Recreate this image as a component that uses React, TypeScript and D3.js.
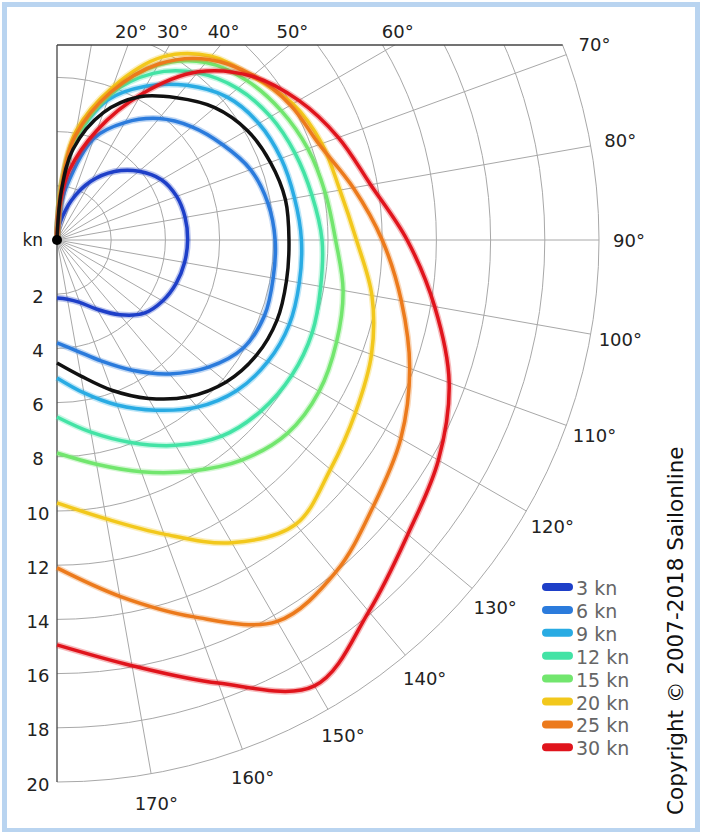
import React, { useEffect, useRef } from "react";
import * as d3 from "d3";

// true wind angle (deg) for every polar point
const angles = [0, 5, 10, 20, 30, 40, 50, 60, 70, 80, 90, 100, 110, 120, 130, 140, 150, 160, 170, 180];

// boat speed (kn) per wind speed
const speed3 = [0, 0.3, 0.65, 1.55, 2.5, 3.3, 3.95, 4.45, 4.7, 4.8, 4.82, 4.78, 4.68, 4.5, 4.2, 3.6, 2.95, 2.45, 2.22, 2.14];
const speed6 = [0, 1.0, 2.0, 4.0, 5.0, 5.85, 6.5, 7.05, 7.6, 7.9, 8.05, 8.1, 8.15, 7.95, 7.3, 6.45, 5.55, 4.75, 4.15, 3.8];
const speed9 = [0, 2.0, 3.7, 5.5, 6.55, 7.45, 8.2, 8.6, 8.8, 8.9, 9.02, 9.08, 9.12, 8.98, 8.65, 8.05, 7.25, 6.48, 5.73, 5.09];
const speed12 = [0, 1.9, 3.6, 5.7, 7.1, 8.05, 8.7, 9.1, 9.35, 9.55, 9.78, 9.88, 10.02, 10.0, 9.82, 9.45, 8.75, 7.95, 7.2, 6.53];
const speed15 = [0, 2.0, 3.8, 5.8, 7.45, 8.55, 9.15, 9.55, 9.85, 10.05, 10.28, 10.72, 10.98, 11.17, 11.1, 10.6, 9.85, 9.1, 8.4, 7.86];
const speed20 = [0, 2.2, 4.1, 6.0, 7.8, 8.85, 9.4, 10.05, 10.4, 10.6, 11.05, 11.8, 12.35, 12.72, 13.17, 13.7, 12.9, 11.55, 10.45, 9.7];
const speed25 = [0, 2.1, 3.9, 5.8, 7.5, 8.7, 9.45, 9.95, 10.3, 11.1, 12.0, 12.9, 13.85, 14.65, 15.25, 16.0, 16.25, 14.8, 13.35, 12.1];
const speed30 = [0, 1.4, 2.6, 4.3, 6.2, 8.1, 9.4, 10.3, 11.05, 11.75, 12.92, 14.15, 15.4, 16.25, 16.9, 17.9, 19.0, 17.4, 15.95, 14.94];
// black curve (current wind)
const speedNow = [0, 1.8, 3.4, 5.0, 6.1, 6.85, 7.6, 8.1, 8.38, 8.56, 8.56, 8.6, 8.64, 8.5, 8.15, 7.55, 6.75, 5.9, 5.1, 4.54];

const windLabels = ["3 kn", "6 kn", "9 kn", "12 kn", "15 kn", "20 kn", "25 kn", "30 kn"];
const windColors = ["#1e3fc8", "#2b7bdc", "#29abe3", "#43e3a5", "#72e66e", "#f2c81c", "#ec7a1c", "#e0141c"];
const windSpeeds = [speed3, speed6, speed9, speed12, speed15, speed20, speed25, speed30];

const radialTicks = [2, 4, 6, 8, 10, 12, 14, 16, 18, 20];
const angleTicks = [20, 30, 40, 50, 60, 70, 80, 90, 100, 110, 120, 130, 140, 150, 160, 170];
const gridAngles = [10, 20, 30, 40, 50, 60, 70, 80, 90, 100, 110, 120, 130, 140, 150, 160, 170];

const W = 702;
const H = 832;
const cx = 57;
const cy = 240;
const topY = 45;
const FONT = "DejaVu Sans, Verdana, sans-serif";

const PolarChart = () => {
  const ref = useRef<SVGSVGElement>(null);

  useEffect(() => {
    const svg = d3.select(ref.current);
    svg.selectAll("*").remove();

    const r = d3.scaleLinear().domain([0, 20]).range([0, 542]);
    const R = r(20);
    const rad = (a: number) => (a * Math.PI) / 180;

    // page frame
    svg.append("rect").attr("width", W).attr("height", H).attr("fill", "#fff");
    svg.append("rect")
      .attr("x", 4.5).attr("y", 4.5).attr("width", 693).attr("height", 826)
      .attr("fill", "none").attr("stroke", "#b9d4f0").attr("stroke-width", 5);

    svg.append("clipPath").attr("id", "plotclip")
      .append("rect").attr("x", cx).attr("y", topY).attr("width", W).attr("height", H);

    const grid = svg.append("g").attr("clip-path", "url(#plotclip)");

    // speed circles
    grid.selectAll("circle.ring")
      .data(radialTicks)
      .enter()
      .append("circle")
      .attr("class", "ring")
      .attr("cx", cx).attr("cy", cy)
      .attr("r", (d) => r(d))
      .attr("fill", "none")
      .attr("stroke", "#a8a8a8")
      .attr("stroke-width", 1);

    // angle spokes
    grid.selectAll("line.spoke")
      .data(gridAngles)
      .enter()
      .append("line")
      .attr("class", "spoke")
      .attr("x1", cx).attr("y1", cy)
      .attr("x2", (d) => cx + R * Math.sin(rad(d)))
      .attr("y2", (d) => cy - R * Math.cos(rad(d)))
      .attr("stroke", "#a8a8a8")
      .attr("stroke-width", 1);

    // frame lines (top and left axis)
    const topEnd = cx + Math.sqrt(R * R - (cy - topY) * (cy - topY));
    svg.append("line")
      .attr("x1", cx).attr("y1", topY).attr("x2", topEnd).attr("y2", topY)
      .attr("stroke", "#444").attr("stroke-width", 1.3);
    svg.append("line")
      .attr("x1", cx).attr("y1", topY).attr("x2", cx).attr("y2", cy + R)
      .attr("stroke", "#444").attr("stroke-width", 1.3);

    // angle labels
    const limitAngle = (Math.acos((cy - topY) / R) * 180) / Math.PI;
    angleTicks.forEach((a) => {
      if (a < limitAngle) {
        svg.append("text")
          .attr("x", cx + (cy - topY) * Math.tan(rad(a)) + 3)
          .attr("y", 38)
          .attr("text-anchor", "middle")
          .attr("font-family", FONT).attr("font-size", 18).attr("fill", "#222")
          .text(`${a}°`);
      } else {
        const rl = R + 30;
        svg.append("text")
          .attr("x", cx + rl * Math.sin(rad(a)))
          .attr("y", cy - rl * Math.cos(rad(a)))
          .attr("text-anchor", "middle")
          .attr("dominant-baseline", "central")
          .attr("font-family", FONT).attr("font-size", 18).attr("fill", "#222")
          .text(`${a}°`);
      }
    });

    // speed labels
    svg.selectAll("text.rlab")
      .data(radialTicks)
      .enter()
      .append("text")
      .attr("class", "rlab")
      .attr("x", 38)
      .attr("y", (d) => cy + r(d) + 2)
      .attr("text-anchor", "middle")
      .attr("dominant-baseline", "central")
      .attr("font-family", FONT).attr("font-size", 18).attr("fill", "#222")
      .text((d) => d);

    svg.append("text")
      .attr("x", 43).attr("y", cy)
      .attr("text-anchor", "end")
      .attr("dominant-baseline", "central")
      .attr("font-family", FONT).attr("font-size", 17).attr("fill", "#222")
      .text("kn");

    // polar curves
    const line = d3.lineRadial<number>()
      .angle((_, i) => rad(angles[i]))
      .radius((d) => r(d))
      .curve(d3.curveCatmullRom.alpha(0.5));

    const curves = svg.append("g").attr("transform", `translate(${cx},${cy})`);
    windSpeeds.forEach((s, i) => {
      curves.append("path")
        .attr("d", line(s))
        .attr("fill", "none")
        .attr("stroke", windColors[i])
        .attr("stroke-opacity", 0.3)
        .attr("stroke-width", 6.5);
      curves.append("path")
        .attr("d", line(s))
        .attr("fill", "none")
        .attr("stroke", windColors[i])
        .attr("stroke-width", 3.5);
    });
    curves.append("path")
      .attr("d", line(speedNow))
      .attr("fill", "none")
      .attr("stroke", "#111")
      .attr("stroke-width", 3.5);

    svg.append("circle").attr("cx", cx).attr("cy", cy).attr("r", 5).attr("fill", "#000");

    // legend
    const lg = svg.append("g");
    windLabels.forEach((lab, i) => {
      const y = 587 + i * 22.9;
      lg.append("line")
        .attr("x1", 546).attr("x2", 569).attr("y1", y).attr("y2", y)
        .attr("stroke", windColors[i]).attr("stroke-width", 8).attr("stroke-linecap", "round");
      lg.append("text")
        .attr("x", 576).attr("y", y + 1)
        .attr("dominant-baseline", "central")
        .attr("font-family", FONT).attr("font-size", 19).attr("fill", "#666")
        .text(lab);
    });

    // copyright
    svg.append("text")
      .attr("transform", "translate(683,815) rotate(-90)")
      .attr("font-family", FONT).attr("font-size", 21.5).attr("fill", "#111")
      .text("Copyright © 2007-2018 Sailonline");
  }, []);

  return <svg ref={ref} width={W} height={H} style={{ position: "absolute", left: 0, top: 0 }} />;
};

function App() {
  return (
    <div>
      <PolarChart />
    </div>
  );
}

export default App;
